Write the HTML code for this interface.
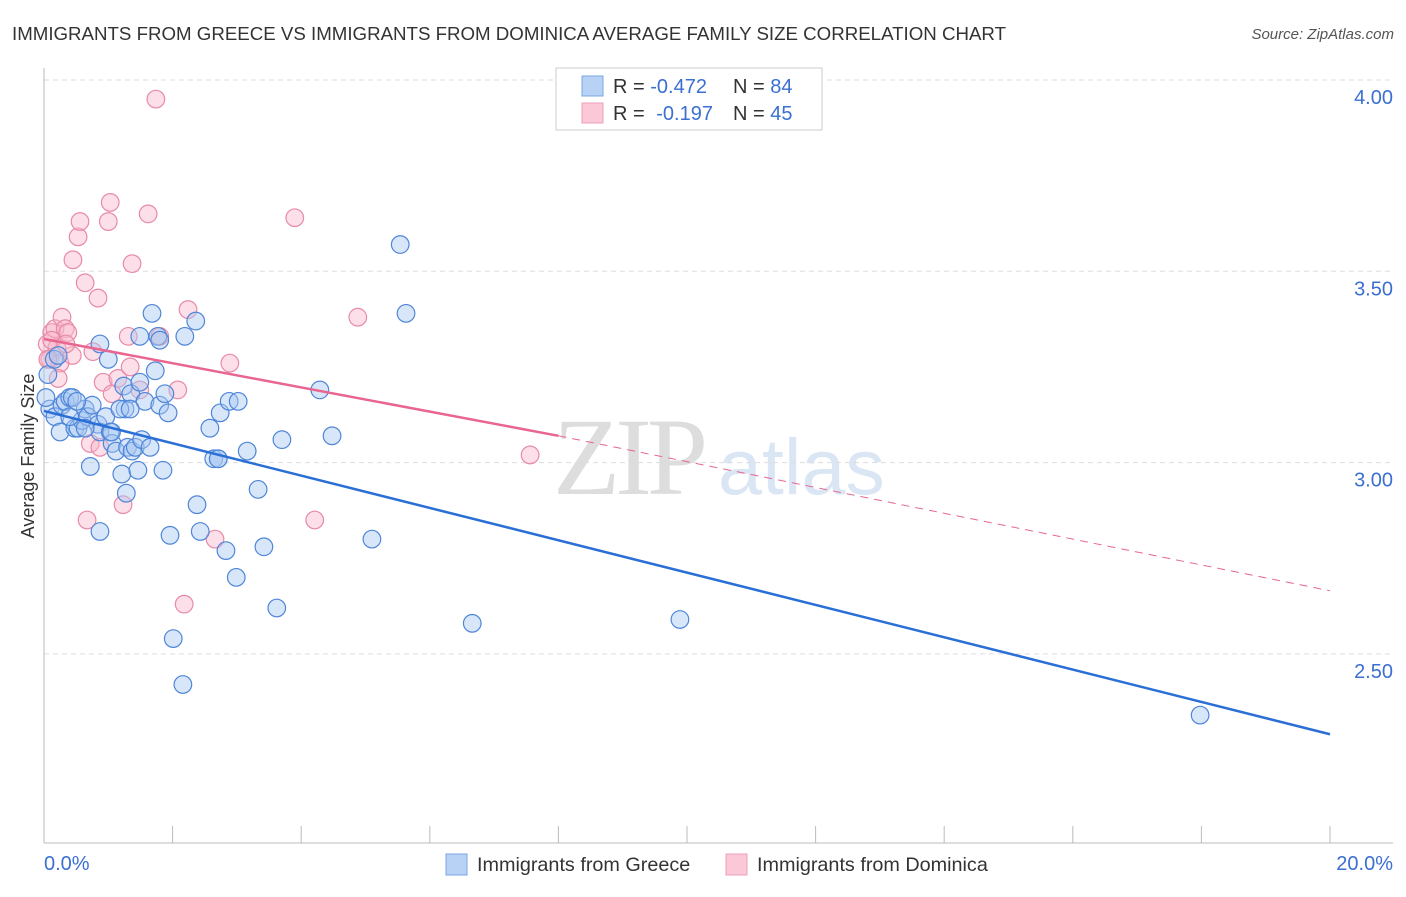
<!DOCTYPE html>
<html><head><meta charset="utf-8"><style>
body{margin:0;background:#fff;font-family:"Liberation Sans",sans-serif}
#wrap{position:relative;width:1406px;height:892px}
</style></head><body>
<div id="wrap">
<svg id="svg" width="1406" height="892" xmlns="http://www.w3.org/2000/svg">
<text x="12" y="40" font-size="18.7" fill="#333">IMMIGRANTS FROM GREECE VS IMMIGRANTS FROM DOMINICA AVERAGE FAMILY SIZE CORRELATION CHART</text>
<text x="1394" y="39" font-size="15" fill="#555" font-style="italic" text-anchor="end">Source: ZipAtlas.com</text>
<text x="34" y="456" font-size="18" fill="#333" text-anchor="middle" transform="rotate(-90 34 456)">Average Family Size</text>
<g><text x="553" y="494" font-size="110" fill="#ddd" font-family="Liberation Serif,serif" letter-spacing="-5">ZIP</text><text x="718" y="494" font-size="79" fill="#dbe6f5">atlas</text></g>
<g id="grid"></g><g id="marks"></g>
<g>
<rect x="556" y="68" width="266" height="62" fill="#fff" stroke="#ccc"/>
<rect x="582" y="76" width="21" height="20" fill="#b8d2f5" stroke="#7aa6e0"/>
<rect x="582" y="103" width="21" height="20" fill="#fbc8d8" stroke="#eea0b8"/>
<text x="613" y="93" font-size="20" fill="#333">R = <tspan fill="#3b6fd1">-0.472</tspan><tspan x="733">N = </tspan><tspan fill="#3b6fd1">84</tspan></text>
<text x="613" y="120" font-size="20" fill="#333">R = <tspan fill="#3b6fd1" dx="6">-0.197</tspan><tspan x="733">N = </tspan><tspan fill="#3b6fd1">45</tspan></text>
</g>
<g>
<rect x="446" y="854" width="21" height="21" fill="#b8d2f5" stroke="#7aa6e0"/>
<text x="477" y="871" font-size="19.8" fill="#333">Immigrants from Greece</text>
<rect x="726" y="854" width="21" height="21" fill="#fbc8d8" stroke="#eea0b8"/>
<text x="757" y="871" font-size="19.8" fill="#333">Immigrants from Dominica</text>
</g>
</svg></div>
<script>
const yTicks=[2.5,3.0,3.5,4.0];
const yTickLabels=["2.50","3.00","3.50","4.00"];
const xTicks=[0,2,4,6,8,10,12,14,16,18,20];
const greeceX=[0.06,0.09,0.17,0.25,0.28,0.33,0.40,0.44,0.48,0.53,0.59,0.64,0.68,0.75,0.87,0.84,0.87,0.96,1.00,1.03,1.06,1.12,1.21,1.24,1.28,1.26,1.30,1.35,1.37,1.42,1.46,1.49,1.52,1.57,1.65,1.68,1.73,1.77,1.80,1.85,1.88,1.93,1.96,2.01,2.16,2.19,2.36,2.38,2.43,2.58,2.64,2.71,2.74,2.83,2.88,2.99,3.02,3.16,3.33,3.42,3.62,3.70,4.29,4.48,5.10,5.54,5.63,6.66,9.89,17.98,0.16,0.22,0.03,0.40,0.64,0.72,0.87,1.18,1.34,0.51,1.49,1.80,2.71,1.05];
const greeceY=[3.23,3.14,3.12,3.08,3.15,3.16,3.17,3.17,3.09,3.09,3.11,3.14,3.12,3.15,3.31,3.10,3.08,3.12,3.27,3.08,3.05,3.03,2.97,3.20,2.92,3.14,3.04,3.18,3.03,3.04,2.98,3.21,3.06,3.16,3.04,3.39,3.24,3.33,3.15,2.98,3.18,3.13,2.81,2.54,2.42,3.33,3.37,2.89,2.82,3.09,3.01,3.01,3.13,2.77,3.16,2.70,3.16,3.03,2.93,2.78,2.62,3.06,3.19,3.07,2.80,3.57,3.39,2.58,2.59,2.34,3.27,3.28,3.17,3.12,3.09,2.99,2.82,3.14,3.14,3.16,3.33,3.32,3.01,3.08];
const dominicaX=[0.05,0.09,0.12,0.17,0.20,0.25,0.28,0.33,0.37,0.44,0.45,0.53,0.56,0.64,0.67,0.72,0.76,0.84,0.87,0.92,1.00,1.03,1.06,1.15,1.23,1.31,1.34,1.37,1.49,1.62,1.74,1.80,2.08,2.18,2.24,2.66,2.89,3.90,4.21,4.88,7.56,0.06,0.12,0.22,0.34];
const dominicaY=[3.31,3.27,3.34,3.35,3.30,3.26,3.38,3.35,3.34,3.28,3.53,3.59,3.63,3.47,2.85,3.05,3.29,3.43,3.04,3.21,3.63,3.68,3.18,3.22,2.89,3.33,3.25,3.52,3.19,3.65,3.95,3.33,3.19,2.63,3.40,2.80,3.26,3.64,2.85,3.38,3.02,3.27,3.32,3.22,3.31];
const blueLine=[[0,3.135],[20,2.29]];
const pinkSolid=[[0,3.323],[8,3.07]];
const pinkDash=[[8,3.07],[20,2.665]];
const X=v=>44+v*64.3, Y=v=>80+(4-v)*382.6;
const NS="http://www.w3.org/2000/svg";
function mk(tag,attrs,parent){const e=document.createElementNS(NS,tag);for(const k in attrs)e.setAttribute(k,attrs[k]);parent.appendChild(e);return e;}
const grid=document.getElementById('grid'),marks=document.getElementById('marks'),svg=document.getElementById('svg');
yTicks.forEach((t,i)=>{
 const l=mk('line',{x1:44,x2:1393,y1:Y(t),y2:Y(t),stroke:'#ddd','stroke-dasharray':'5,4'},grid);
 
 
 const tx=mk('text',{x:1393,y:Y(t)+24,'font-size':20,fill:'#3b6fd1','text-anchor':'end'},svg);
 tx.textContent=yTickLabels[i];
 
 
});
const ax=mk('line',{x1:44,x2:44,y1:68,y2:843,stroke:'#bbb'},grid);


const bx=mk('line',{x1:44,x2:1393,y1:843,y2:843,stroke:'#bbb'},grid);


xTicks.forEach(t=>{const l=mk('line',{x1:X(t),x2:X(t),y1:826,y2:843,stroke:'#bbb'},grid);
 
 });
[["0.0%",44,'start'],["20.0%",1393,'end']].forEach(a=>{const t=mk('text',{x:a[1],y:870,'font-size':20,fill:'#3b6fd1','text-anchor':a[2]},svg);t.textContent=a[0];
 
 });
function pts(xs,ys,fill,stroke,name){xs.forEach((x,i)=>{const c=mk('circle',{cx:X(x),cy:Y(ys[i]),r:8.8,fill:fill,'fill-opacity':0.45,stroke:stroke,'stroke-width':1.2},marks);
 
 });}
pts(dominicaX,dominicaY,'#f9b9cd','#e88aa8','dominica-point');
pts(greeceX,greeceY,'#a9c8f2','#4f86d8','greece-point');
function ln(p,col,w,dash,name){const l=mk('line',{x1:X(p[0][0]),y1:Y(p[0][1]),x2:X(p[1][0]),y2:Y(p[1][1]),stroke:col,'stroke-width':w},marks);if(dash)l.setAttribute('stroke-dasharray',dash);
 
 }
ln(blueLine,'#2a6fd6',2.5,null,'greece-trendline');
ln(pinkSolid,'#e8668f',2.5,null,'dominica-trendline');
ln(pinkDash,'#e8668f',1,'8,6','dominica-trendline-extension');
</script>
</body></html>
